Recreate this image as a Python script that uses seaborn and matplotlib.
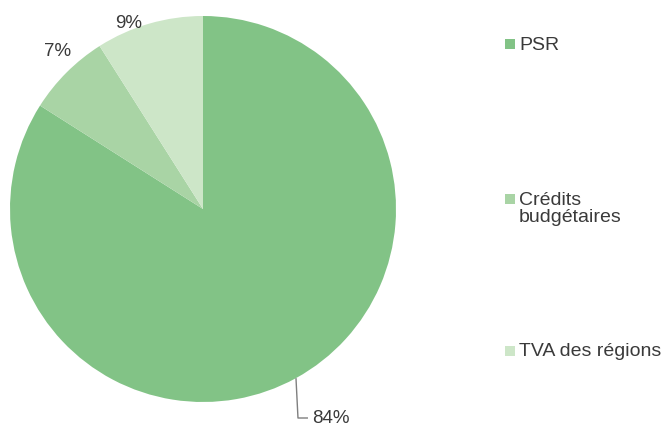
import numpy as np
import matplotlib
matplotlib.use("Agg")
import matplotlib.pyplot as plt
import seaborn as sns

# ---- data ----
categories = ["PSR", "Crédits budgétaires", "TVA des régions"]
legend_labels = ["PSR", "Crédits\nbudgétaires", "TVA des régions"]
shares = [84, 7, 9]
pct_labels = ["84%", "7%", "9%"]

# ---- style ----
sns.set_theme(style="white")
plt.rcParams['font.family'] = ['Liberation Sans', 'DejaVu Sans']
colors = ["#82C386", "#A9D4A5", "#CDE6C8"]
text_color = "#3a3a3a"

W, H = 667, 427
fig = plt.figure(figsize=(W / 100, H / 100), dpi=100)
ax = fig.add_axes([0, 0, 1, 1])

def Y(y):
    return H - y

cx, cy, R = 203, Y(210), 193
wedges, _ = ax.pie(shares, colors=colors, startangle=90, counterclock=False,
                   center=(cx, cy), radius=R,
                   wedgeprops=dict(linewidth=0))
ax.set_xlim(0, W)
ax.set_ylim(0, H)
ax.set_aspect('equal')
ax.axis('off')

# percentage labels (placed relative to wedge mid-angles)
label_r = [None, 1.114, 1.04]
label_dang = [None, -2.3, 5.4]
for i, w in enumerate(wedges):
    mid = np.deg2rad((w.theta1 + w.theta2) / 2)
    if i == 0:
        ex, ey = cx + R * np.cos(mid), cy + R * np.sin(mid)
        ly = Y(419)
        ax.plot([ex, ex + 2, ex + 12], [ey, ly, ly], color="#7f7f7f", lw=1.0,
                solid_capstyle='butt', clip_on=False)
        ax.text(ex + 16, ly, pct_labels[i], ha='left', va='center',
                fontsize=13.5, color=text_color)
    else:
        a = mid + np.deg2rad(label_dang[i])
        tx, ty = cx + label_r[i] * R * np.cos(a), cy + label_r[i] * R * np.sin(a)
        ax.text(tx, ty, pct_labels[i], ha='center', va='center',
                fontsize=13.5, color=text_color)

# legend (drawn manually to match spacing)
leg_y = [45, 209, 352]
mark_y = [45, 200, 352]
for lab, col, yl, ym in zip(legend_labels, colors, leg_y, mark_y):
    ax.scatter([510], [Y(ym)], marker='s', s=42, color=col, linewidths=0)
    ax.text(519, Y(yl), lab, ha='left', va='center', fontsize=14,
            color=text_color, linespacing=1.0)

fig.savefig("out.png", dpi=100)
